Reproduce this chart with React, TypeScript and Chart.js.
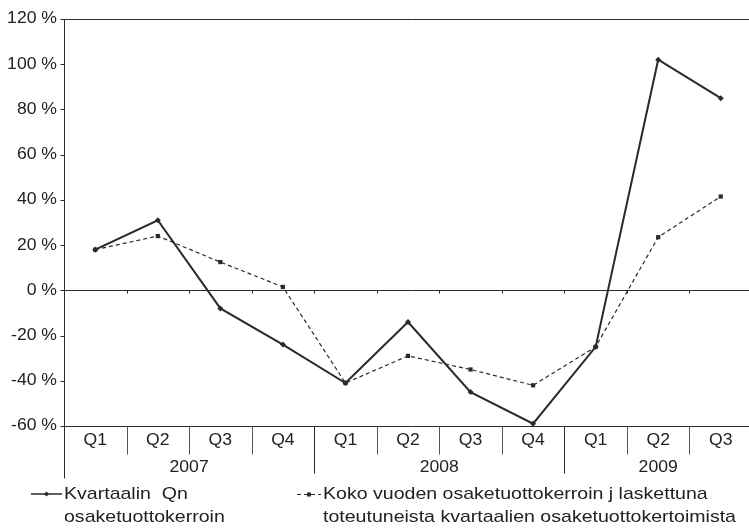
import { useEffect, useRef } from 'react';
import { Chart, registerables } from 'chart.js';

Chart.register(...registerables);

const quarterLabels = ['Q1', 'Q2', 'Q3', 'Q4', 'Q1', 'Q2', 'Q3', 'Q4', 'Q1', 'Q2', 'Q3'];
const yearLabels = ['2007', '2008', '2009'];
const quartersPerYear = [4, 4, 3];
const quarterlyEps = [18, 31, -8, -24, -41, -14, -45, -59, -25, 102, 85];
const annualEps = [18, 24, 12.5, 1.5, -41, -29, -35, -42, -25, 23.5, 41.5];
const yTickValues = [-60, -40, -20, 0, 20, 40, 60, 80, 100, 120];
const legendSolid = ['Kvartaalin  Qn', 'osaketuottokerroin'];
const legendDashed = ['Koko vuoden osaketuottokerroin j laskettuna', 'toteutuneista kvartaalien osaketuottokertoimista'];

const INK = '#2a2a2a';
const TEXT = '#222';
const FONT = '"Liberation Sans", Arial, sans-serif';

function txt(ctx: CanvasRenderingContext2D, s: string, x: number, y: number, align: CanvasTextAlign, size: number, sx: number) {
  ctx.save();
  ctx.font = `${size}px ${FONT}`;
  ctx.fillStyle = TEXT;
  ctx.textBaseline = 'middle';
  ctx.textAlign = align;
  ctx.translate(x, y);
  ctx.scale(sx, 1);
  ctx.fillText(s, 0, 0);
  ctx.restore();
}

const tablePlugin = {
  id: 'tablePlugin',
  beforeDatasetsDraw(chart: any) {
    const { ctx, chartArea: a, scales } = chart;
    const y = scales.y;
    const n = quarterLabels.length;
    const w = (a.right - a.left) / n;
    const ax = Math.round(a.left) + 0.5;
    ctx.save();
    ctx.strokeStyle = INK;
    ctx.lineWidth = 1;
    const line = (x1: number, y1: number, x2: number, y2: number) => {
      ctx.beginPath();
      ctx.moveTo(x1, y1);
      ctx.lineTo(x2, y2);
      ctx.stroke();
    };
    const yTop = Math.round(y.getPixelForValue(120)) + 0.5;
    const y0 = Math.round(y.getPixelForValue(0)) + 0.5;
    const yb = Math.round(y.getPixelForValue(-60)) + 0.5;
    line(ax, yTop, chart.width, yTop);
    line(ax, y0, chart.width, y0);
    line(ax, yb, chart.width, yb);
    line(ax, yTop, ax, yb + 52);
    yTickValues.forEach((v) => {
      const py = Math.round(y.getPixelForValue(v)) + 0.5;
      line(ax - 4, py, ax, py);
    });
    const yearStarts = new Set<number>();
    let acc = 0;
    quartersPerYear.forEach((c) => { acc += c; yearStarts.add(acc); });
    for (let i = 1; i < n; i++) {
      const xb = Math.round(a.left + i * w) + 0.5;
      line(xb, y0, xb, y0 + 3);
      ctx.strokeStyle = yearStarts.has(i) ? INK : '#555';
      line(xb, yb, xb, yb + (yearStarts.has(i) ? 47 : 28));
      ctx.strokeStyle = INK;
    }
    ctx.restore();
  },
  afterDraw(chart: any) {
    const { ctx, chartArea: a, scales } = chart;
    const y = scales.y;
    const x = scales.x;
    const n = quarterLabels.length;
    const w = (a.right - a.left) / n;
    const yb = y.getPixelForValue(-60);
    yTickValues.forEach((v) => {
      txt(ctx, `${v} %`, a.left - 7, y.getPixelForValue(v), 'right', 16, 1.1);
    });
    quarterLabels.forEach((q, i) => {
      txt(ctx, q, x.getPixelForValue(i), yb + 15, 'center', 16, 1.1);
    });
    let start = 0;
    yearLabels.forEach((yl, j) => {
      const cx = a.left + (start + quartersPerYear[j] / 2) * w;
      txt(ctx, yl, cx, yb + 42, 'center', 16, 1.1);
      start += quartersPerYear[j];
    });
    const ly1 = 494;
    const ly2 = 517;
    ctx.save();
    ctx.strokeStyle = INK;
    ctx.fillStyle = INK;
    ctx.lineWidth = 1.5;
    ctx.beginPath();
    ctx.moveTo(31, ly1);
    ctx.lineTo(62, ly1);
    ctx.stroke();
    ctx.beginPath();
    ctx.moveTo(46.5, ly1 - 2.5);
    ctx.lineTo(49, ly1);
    ctx.lineTo(46.5, ly1 + 2.5);
    ctx.lineTo(44, ly1);
    ctx.closePath();
    ctx.fill();
    ctx.lineWidth = 1.2;
    ctx.setLineDash([4, 3]);
    ctx.beginPath();
    ctx.moveTo(297, ly1 + 0.5);
    ctx.lineTo(321, ly1 + 0.5);
    ctx.stroke();
    ctx.setLineDash([]);
    ctx.fillRect(307, ly1 - 1.5, 4, 4);
    ctx.restore();
    txt(ctx, legendSolid[0], 64, ly1, 'left', 17, 1.15);
    txt(ctx, legendSolid[1], 64, ly2, 'left', 17, 1.15);
    txt(ctx, legendDashed[0], 323, ly1, 'left', 17, 1.15);
    txt(ctx, legendDashed[1], 323, ly2, 'left', 17, 1.15);
  },
};

export default function App() {
  const ref = useRef<HTMLCanvasElement>(null);
  useEffect(() => {
    const chart = new Chart(ref.current!, {
      type: 'line',
      data: {
        labels: quarterLabels,
        datasets: [
          {
            label: 'Kvartaalin Qn osaketuottokerroin',
            data: quarterlyEps,
            borderColor: INK,
            backgroundColor: INK,
            borderWidth: 2,
            pointStyle: 'rectRot',
            pointRadius: 3,
            pointBorderWidth: 0,
            pointBackgroundColor: INK,
            tension: 0,
          },
          {
            label: 'Koko vuoden osaketuottokerroin',
            data: annualEps,
            borderColor: INK,
            backgroundColor: INK,
            borderWidth: 1.2,
            borderDash: [4, 3],
            pointStyle: 'rect',
            pointRadius: 3,
            pointBorderWidth: 0,
            pointBackgroundColor: INK,
            tension: 0,
          },
        ],
      },
      options: {
        responsive: false,
        animation: false,
        devicePixelRatio: 1,
        layout: { padding: { left: 64, top: 19, right: 8, bottom: 106 } },
        plugins: { legend: { display: false }, tooltip: { enabled: false } },
        scales: {
          x: { type: 'category', display: false, offset: true },
          y: { type: 'linear', display: false, min: -60, max: 120 },
        },
      },
      plugins: [tablePlugin],
    });
    return () => chart.destroy();
  }, []);
  return (
    <div style={{ position: 'fixed', left: 0, top: 0, width: 749, height: 532, overflow: 'hidden', background: '#fff' }}>
      <canvas ref={ref} width={760} height={532} style={{ width: 760, height: 532, display: 'block' }} />
    </div>
  );
}
